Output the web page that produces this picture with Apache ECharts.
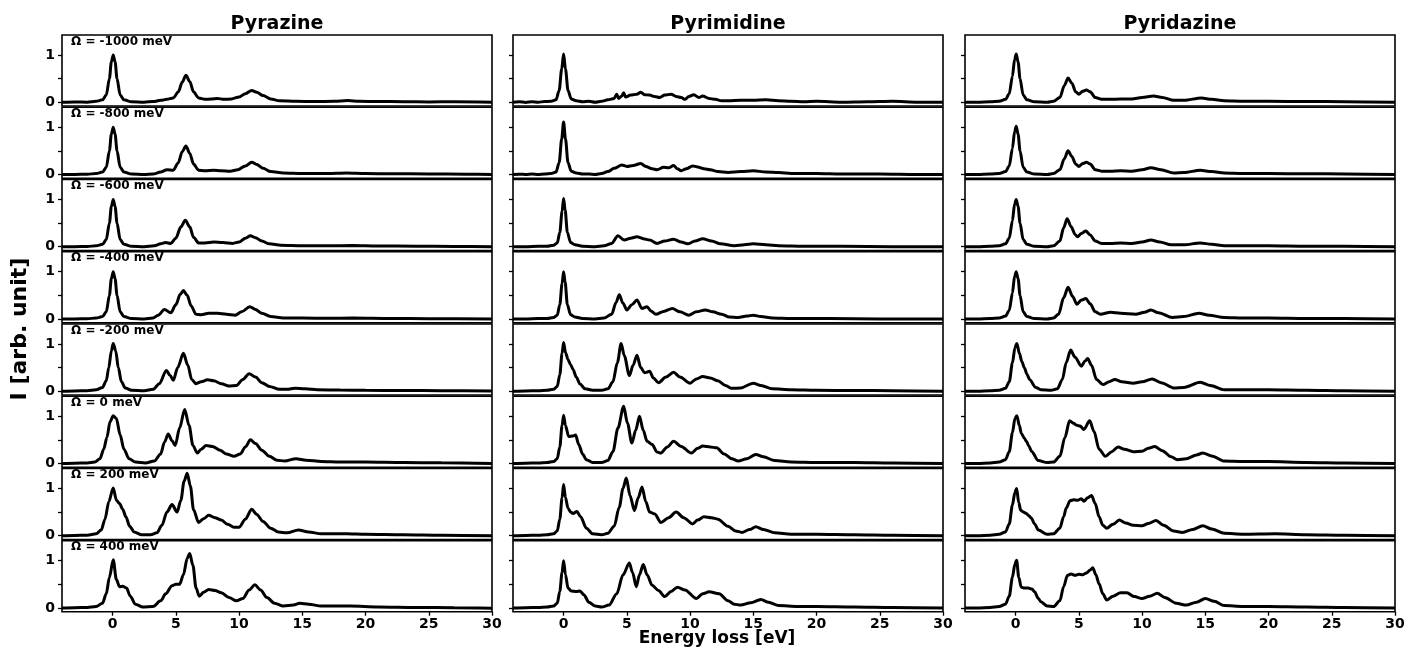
<!DOCTYPE html>
<html>
<head>
<meta charset="utf-8">
<script src="https://cdn.jsdelivr.net/npm/echarts@6/dist/echarts.min.js"></script>
<style>html,body{margin:0;padding:0;background:#fff}#c{width:1404px;height:648px}</style>
</head>
<body>
<div id="c"></div>
<script>
// ---------------- data ----------------
const molecules = ['Pyrazine', 'Pyrimidine', 'Pyridazine'];
const omegaLabels = ['Ω = -1000 meV', 'Ω = -800 meV', 'Ω = -600 meV', 'Ω = -400 meV', 'Ω = -200 meV', 'Ω = 0 meV', 'Ω = 200 meV', 'Ω = 400 meV'];
const xTicks = [0, 5, 10, 15, 20, 25, 30];
const yTicks = [0, 0.5, 1];
const yTickLabels = [0, 1];

// Pyrazine
const pz_m1000 = [[-4,0.0],[-3,0.005],[-2,0.0],[-1.3,0.02],[-0.8,0.05],[-0.5,0.15],[-0.25,0.5],[-0.1,0.85],[0.05,1.0],[0.2,0.85],[0.35,0.5],[0.6,0.15],[0.9,0.05],[1.5,0.01],[2.5,0.0],[3.2,0.015],[3.8,0.04],[4.3,0.06],[4.8,0.09],[5.2,0.22],[5.5,0.42],[5.8,0.57],[6.1,0.44],[6.4,0.22],[6.8,0.09],[7.3,0.06],[7.8,0.07],[8.3,0.08],[8.8,0.06],[9.4,0.07],[10,0.11],[10.5,0.18],[11,0.25],[11.4,0.21],[11.9,0.14],[12.5,0.07],[13.2,0.03],[14.5,0.02],[16,0.015],[17.5,0.02],[18.6,0.035],[19.5,0.02],[21,0.015],[23,0.01],[25,0.005],[27,0.01],[30,0.0]];
const pz_m800 = [[-4,0.0],[-3,0.0],[-2,0.005],[-1.3,0.02],[-0.8,0.05],[-0.5,0.15],[-0.25,0.5],[-0.1,0.85],[0.05,1.0],[0.2,0.85],[0.35,0.5],[0.6,0.15],[0.9,0.05],[1.5,0.01],[2.5,0.0],[3.2,0.01],[3.8,0.05],[4.3,0.1],[4.8,0.09],[5.2,0.25],[5.5,0.48],[5.8,0.6],[6.1,0.45],[6.4,0.22],[6.8,0.09],[7.3,0.08],[8,0.09],[8.6,0.08],[9.3,0.07],[9.9,0.1],[10.5,0.18],[11,0.26],[11.4,0.21],[11.9,0.13],[12.5,0.06],[13.5,0.03],[15,0.02],[17,0.02],[18.5,0.03],[20,0.02],[22,0.015],[25,0.01],[28,0.005],[30,0.0]];
const pz_m600 = [[-4,0.0],[-3,0.0],[-2,0.005],[-1.3,0.02],[-0.8,0.05],[-0.5,0.15],[-0.25,0.5],[-0.1,0.85],[0.05,1.0],[0.2,0.85],[0.35,0.5],[0.6,0.15],[0.9,0.05],[1.5,0.01],[2.5,0.0],[3.3,0.02],[3.8,0.06],[4.2,0.09],[4.6,0.07],[5.0,0.18],[5.4,0.42],[5.75,0.56],[6.1,0.42],[6.4,0.2],[6.8,0.08],[7.3,0.08],[8,0.1],[8.7,0.09],[9.5,0.07],[10,0.1],[10.5,0.18],[10.9,0.23],[11.3,0.19],[11.8,0.12],[12.4,0.06],[13.3,0.03],[15,0.02],[17,0.02],[19,0.025],[21,0.015],[24,0.01],[27,0.005],[30,0.0]];
const pz_m400 = [[-4,0.0],[-3,0.0],[-2,0.005],[-1.3,0.02],[-0.8,0.05],[-0.5,0.15],[-0.25,0.5],[-0.1,0.85],[0.05,1.0],[0.2,0.85],[0.35,0.5],[0.6,0.15],[0.9,0.05],[1.5,0.01],[2.5,0.0],[3.2,0.02],[3.6,0.08],[4.1,0.2],[4.6,0.13],[5.0,0.3],[5.35,0.52],[5.6,0.6],[5.9,0.5],[6.2,0.28],[6.6,0.1],[7,0.09],[7.6,0.12],[8.3,0.12],[9,0.1],[9.7,0.08],[10.2,0.15],[10.85,0.26],[11.3,0.2],[11.8,0.12],[12.5,0.05],[13.5,0.02],[15,0.02],[17,0.015],[19,0.02],[22,0.01],[25,0.005],[30,0.0]];
const pz_m200 = [[-4,0.0],[-3,0.005],[-2,0.01],[-1.3,0.03],[-0.8,0.08],[-0.5,0.22],[-0.3,0.5],[-0.1,0.85],[0.05,1.01],[0.25,0.85],[0.45,0.5],[0.7,0.2],[1,0.07],[1.5,0.02],[2.5,0.01],[3.2,0.04],[3.7,0.16],[4.25,0.44],[4.55,0.33],[4.8,0.23],[5.15,0.5],[5.6,0.8],[5.95,0.55],[6.25,0.25],[6.6,0.16],[7.0,0.2],[7.5,0.24],[8.0,0.22],[8.6,0.16],[9.2,0.11],[9.8,0.12],[10.3,0.25],[10.8,0.37],[11.3,0.3],[11.8,0.18],[12.4,0.1],[13.2,0.04],[13.8,0.04],[14.4,0.065],[15.2,0.05],[16.2,0.03],[18,0.025],[20,0.02],[23,0.015],[26,0.01],[30,0.005]];
const pz_0 = [[-4,0.0],[-3,0.005],[-2,0.01],[-1.4,0.03],[-1,0.1],[-0.7,0.3],[-0.45,0.55],[-0.2,0.88],[0.05,1.01],[0.3,0.95],[0.6,0.6],[0.9,0.3],[1.3,0.1],[1.8,0.03],[2.6,0.01],[3.3,0.05],[3.8,0.2],[4.1,0.45],[4.4,0.62],[4.7,0.48],[4.95,0.38],[5.3,0.75],[5.7,1.14],[6.05,0.8],[6.35,0.38],[6.7,0.22],[7.0,0.3],[7.4,0.38],[7.9,0.36],[8.5,0.28],[9.0,0.2],[9.6,0.15],[10.1,0.2],[10.5,0.35],[10.9,0.5],[11.3,0.42],[11.8,0.28],[12.4,0.15],[13,0.07],[13.6,0.05],[14.5,0.1],[15.3,0.07],[16.5,0.04],[18,0.03],[20,0.03],[23,0.02],[26,0.015],[30,0.0]];
const pz_200 = [[-4,0.0],[-3,0.005],[-2,0.01],[-1.3,0.04],[-0.9,0.12],[-0.6,0.35],[-0.3,0.72],[0.05,1.01],[0.3,0.75],[0.55,0.68],[0.8,0.56],[1.05,0.4],[1.35,0.2],[1.7,0.08],[2.3,0.02],[3.0,0.02],[3.5,0.06],[3.9,0.22],[4.3,0.5],[4.7,0.66],[5.1,0.5],[5.4,0.75],[5.65,1.15],[5.9,1.32],[6.15,1.05],[6.4,0.55],[6.8,0.28],[7.2,0.36],[7.6,0.43],[8.1,0.38],[8.6,0.33],[9.1,0.24],[9.6,0.18],[10.0,0.18],[10.5,0.35],[11.0,0.56],[11.4,0.45],[11.9,0.3],[12.5,0.16],[13.1,0.08],[13.8,0.06],[14.7,0.12],[15.5,0.08],[16.5,0.04],[18.5,0.04],[20,0.03],[23,0.02],[26,0.01],[30,0.0]];
const pz_400 = [[-4,0.0],[-3,0.005],[-2,0.01],[-1.3,0.03],[-0.8,0.1],[-0.5,0.3],[-0.25,0.65],[0.05,1.02],[0.3,0.6],[0.55,0.45],[0.8,0.46],[1.1,0.42],[1.4,0.25],[1.8,0.08],[2.4,0.02],[3.2,0.03],[3.8,0.15],[4.2,0.3],[4.7,0.47],[5.0,0.5],[5.3,0.5],[5.6,0.7],[5.9,1.05],[6.1,1.15],[6.35,0.9],[6.6,0.42],[6.85,0.25],[7.2,0.33],[7.6,0.39],[8.1,0.37],[8.6,0.32],[9.2,0.22],[9.8,0.15],[10.3,0.2],[10.8,0.38],[11.25,0.49],[11.7,0.38],[12.2,0.22],[12.8,0.1],[13.5,0.04],[14.3,0.06],[14.8,0.1],[15.5,0.08],[16.5,0.04],[18.8,0.04],[21,0.02],[24,0.01],[27,0.005],[30,-0.005]];

// Pyrimidine
const pm_m1000 = [[-4,0.0],[-3.5,0.01],[-3,-0.005],[-2.5,0.01],[-2,0.0],[-1.5,0.015],[-1,0.02],[-0.6,0.05],[-0.35,0.25],[-0.15,0.7],[0,1.02],[0.15,0.7],[0.35,0.25],[0.6,0.07],[1,0.03],[1.5,0.01],[2,0.02],[2.5,0.0],[3,0.02],[3.5,0.05],[4,0.08],[4.2,0.17],[4.35,0.08],[4.6,0.13],[4.75,0.2],[4.9,0.11],[5.3,0.15],[5.8,0.17],[6.1,0.21],[6.4,0.16],[6.8,0.15],[7.2,0.12],[7.6,0.1],[8.0,0.15],[8.5,0.17],[8.9,0.12],[9.3,0.1],[9.6,0.06],[9.9,0.12],[10.3,0.16],[10.7,0.1],[11.0,0.13],[11.5,0.08],[12,0.06],[12.5,0.03],[13,0.03],[14,0.04],[15,0.04],[16,0.05],[17,0.03],[18,0.02],[19,0.01],[20,0.02],[22,0.0],[24,0.01],[26,0.02],[28,0.0],[30,0.0]];
const pm_m800 = [[-4,0.0],[-3.5,0.005],[-3,0.0],[-2.5,0.01],[-2,0.0],[-1.5,0.01],[-1,0.02],[-0.6,0.05],[-0.35,0.25],[-0.15,0.75],[0,1.11],[0.15,0.75],[0.35,0.25],[0.6,0.07],[1,0.03],[1.5,0.01],[2,0.01],[2.5,0.0],[3,0.02],[3.5,0.06],[4,0.13],[4.6,0.2],[5,0.17],[5.5,0.19],[6.1,0.23],[6.5,0.17],[7,0.12],[7.4,0.1],[7.9,0.15],[8.3,0.14],[8.7,0.19],[9.0,0.12],[9.3,0.08],[9.7,0.12],[10.2,0.18],[10.6,0.16],[11.1,0.12],[11.6,0.1],[12.2,0.06],[13,0.04],[14,0.06],[15,0.08],[16,0.05],[17,0.04],[18,0.02],[20,0.02],[22,0.01],[25,0.01],[28,0.0],[30,0.0]];
const pm_m600 = [[-4,0.0],[-3,0.0],[-2,0.01],[-1.3,0.01],[-0.8,0.03],[-0.5,0.08],[-0.3,0.3],[-0.12,0.75],[0,1.02],[0.12,0.78],[0.3,0.3],[0.55,0.09],[0.9,0.04],[1.5,0.01],[2.5,0.0],[3.2,0.02],[3.8,0.07],[4.3,0.23],[4.8,0.14],[5.3,0.18],[5.8,0.21],[6.3,0.17],[6.8,0.14],[7.4,0.07],[8,0.12],[8.7,0.16],[9.3,0.1],[9.8,0.06],[10.4,0.12],[11,0.17],[11.7,0.12],[12.4,0.06],[13.5,0.02],[14.3,0.04],[15,0.06],[16,0.04],[17,0.02],[19,0.01],[22,0.01],[26,0.0],[30,0.0]];
const pm_m400 = [[-4,0.0],[-3,0.0],[-2,0.01],[-1.3,0.01],[-0.8,0.03],[-0.5,0.08],[-0.3,0.3],[-0.12,0.75],[0,1.0],[0.12,0.78],[0.3,0.3],[0.55,0.09],[0.9,0.04],[1.5,0.01],[2.5,0.0],[3.2,0.02],[3.8,0.1],[4.15,0.35],[4.4,0.51],[4.7,0.33],[5.0,0.19],[5.4,0.3],[5.8,0.4],[6.2,0.22],[6.6,0.26],[6.9,0.17],[7.3,0.1],[7.9,0.16],[8.6,0.22],[9.2,0.15],[9.9,0.08],[10.5,0.15],[11.2,0.19],[11.8,0.15],[12.5,0.1],[13.1,0.04],[13.8,0.03],[14.5,0.06],[15,0.08],[15.6,0.05],[16.5,0.02],[18,0.01],[21,0.01],[25,0.0],[30,0.0]];
const pm_m200 = [[-4,0.0],[-3,0.005],[-2,0.01],[-1.3,0.02],[-0.8,0.04],[-0.5,0.1],[-0.3,0.35],[-0.12,0.8],[0,1.03],[0.15,0.82],[0.35,0.67],[0.55,0.56],[0.75,0.46],[1.0,0.3],[1.3,0.15],[1.7,0.05],[2.3,0.02],[3.0,0.02],[3.5,0.05],[3.9,0.2],[4.25,0.6],[4.55,1.01],[4.8,0.75],[5.2,0.33],[5.5,0.55],[5.8,0.76],[6.1,0.5],[6.4,0.39],[6.8,0.42],[7.1,0.28],[7.5,0.18],[8.1,0.3],[8.7,0.4],[9.2,0.3],[10.0,0.17],[10.5,0.26],[11.0,0.31],[11.6,0.28],[12.2,0.22],[12.8,0.12],[13.3,0.06],[14,0.07],[15,0.17],[15.6,0.12],[16.5,0.05],[18,0.03],[20,0.02],[23,0.015],[26,0.01],[30,0.0]];
const pm_0 = [[-4,0.0],[-3,0.005],[-2,0.01],[-1.3,0.02],[-0.8,0.04],[-0.5,0.1],[-0.3,0.35],[-0.12,0.8],[0,1.02],[0.15,0.8],[0.4,0.57],[0.7,0.58],[0.95,0.6],[1.2,0.4],[1.5,0.2],[1.8,0.08],[2.3,0.02],[3.0,0.02],[3.5,0.06],[3.9,0.25],[4.3,0.75],[4.75,1.21],[5.05,0.85],[5.4,0.43],[5.7,0.7],[6.0,1.0],[6.3,0.7],[6.6,0.47],[7.0,0.4],[7.4,0.24],[7.7,0.22],[8.2,0.35],[8.7,0.47],[9.3,0.36],[10.1,0.22],[10.6,0.32],[11.0,0.37],[11.6,0.35],[12.1,0.33],[12.7,0.2],[13.3,0.1],[13.8,0.05],[14.5,0.1],[15.2,0.19],[15.8,0.14],[16.7,0.06],[18,0.03],[20,0.02],[23,0.02],[26,0.01],[30,0.0]];
const pm_200 = [[-4,0.0],[-3,0.005],[-2,0.01],[-1.3,0.02],[-0.8,0.04],[-0.5,0.1],[-0.3,0.35],[-0.12,0.8],[0,1.08],[0.15,0.8],[0.35,0.58],[0.55,0.5],[0.75,0.47],[1.05,0.51],[1.35,0.4],[1.8,0.16],[2.3,0.04],[3.0,0.02],[3.5,0.05],[4.0,0.2],[4.4,0.6],[4.7,1.0],[4.96,1.22],[5.25,0.85],[5.6,0.53],[5.9,0.8],[6.2,1.03],[6.5,0.72],[6.8,0.5],[7.2,0.46],[7.7,0.28],[8.3,0.38],[8.9,0.5],[9.5,0.38],[10.2,0.25],[10.6,0.33],[11.1,0.4],[11.7,0.38],[12.2,0.35],[13.0,0.2],[13.6,0.1],[14.1,0.07],[14.7,0.13],[15.2,0.19],[15.8,0.13],[16.7,0.06],[18,0.03],[20,0.03],[23,0.02],[26,0.01],[30,0.0]];
const pm_400 = [[-4,0.0],[-3,0.005],[-2,0.01],[-1.3,0.02],[-0.8,0.04],[-0.5,0.1],[-0.3,0.35],[-0.12,0.75],[0,1.0],[0.15,0.7],[0.35,0.42],[0.6,0.36],[1.0,0.35],[1.3,0.36],[1.6,0.28],[2.0,0.12],[2.5,0.04],[3.0,0.02],[3.6,0.06],[4.2,0.3],[4.7,0.7],[5.2,0.95],[5.45,0.75],[5.75,0.45],[6.0,0.7],[6.3,0.92],[6.6,0.7],[7.0,0.48],[7.5,0.37],[8.0,0.24],[8.5,0.35],[9.0,0.44],[9.6,0.38],[10.5,0.2],[11.0,0.3],[11.5,0.34],[12.3,0.3],[13.0,0.15],[13.5,0.08],[14.0,0.06],[14.8,0.11],[15.6,0.18],[16.2,0.12],[17,0.05],[18.5,0.03],[20,0.03],[23,0.02],[26,0.01],[30,0.0]];

// Pyridazine
const pd_m1000 = [[-4,0.0],[-3,0.0],[-2,0.01],[-1.3,0.02],[-0.8,0.06],[-0.5,0.18],[-0.25,0.55],[-0.08,0.9],[0.05,1.02],[0.2,0.85],[0.35,0.5],[0.6,0.15],[0.9,0.05],[1.5,0.01],[2.5,0.0],[3.0,0.02],[3.5,0.1],[3.85,0.35],[4.15,0.51],[4.45,0.4],[4.75,0.22],[5.0,0.17],[5.3,0.23],[5.6,0.26],[5.9,0.22],[6.3,0.1],[6.8,0.06],[7.5,0.06],[8.3,0.07],[9.2,0.07],[10.0,0.1],[10.9,0.13],[11.6,0.1],[12.5,0.04],[13.3,0.04],[14.7,0.09],[15.5,0.06],[16.5,0.03],[18,0.02],[20,0.02],[23,0.015],[26,0.01],[30,0.0]];
const pd_m800 = [[-4,0.0],[-3,0.0],[-2,0.01],[-1.3,0.02],[-0.8,0.06],[-0.5,0.18],[-0.25,0.55],[-0.08,0.9],[0.05,1.02],[0.2,0.85],[0.35,0.5],[0.6,0.15],[0.9,0.05],[1.5,0.01],[2.5,0.0],[3.0,0.02],[3.5,0.1],[3.85,0.33],[4.15,0.5],[4.45,0.38],[4.75,0.22],[5.0,0.17],[5.3,0.23],[5.6,0.26],[5.9,0.22],[6.3,0.1],[6.8,0.07],[7.5,0.07],[8.3,0.08],[9.2,0.07],[10.0,0.1],[10.7,0.14],[11.5,0.1],[12.5,0.03],[13.3,0.04],[14.6,0.09],[15.5,0.06],[16.5,0.03],[18,0.02],[20,0.02],[23,0.015],[26,0.01],[30,0.0]];
const pd_m600 = [[-4,0.0],[-3,0.0],[-2,0.01],[-1.3,0.02],[-0.8,0.06],[-0.5,0.18],[-0.25,0.55],[-0.08,0.9],[0.05,1.0],[0.2,0.85],[0.35,0.5],[0.6,0.15],[0.9,0.05],[1.5,0.01],[2.5,0.0],[3.0,0.02],[3.5,0.12],[3.8,0.4],[4.07,0.59],[4.4,0.42],[4.7,0.26],[4.9,0.21],[5.2,0.28],[5.55,0.33],[5.9,0.25],[6.3,0.12],[6.8,0.07],[7.5,0.07],[8.3,0.08],[9.2,0.07],[10.0,0.1],[10.7,0.14],[11.4,0.1],[12.3,0.04],[13.3,0.04],[14.6,0.08],[15.5,0.05],[16.5,0.02],[18,0.02],[20,0.02],[23,0.01],[26,0.01],[30,0.0]];
const pd_m400 = [[-4,0.0],[-3,0.0],[-2,0.01],[-1.3,0.02],[-0.8,0.06],[-0.5,0.18],[-0.25,0.55],[-0.08,0.9],[0.05,1.0],[0.2,0.85],[0.35,0.5],[0.6,0.15],[0.9,0.05],[1.5,0.01],[2.5,0.0],[3.0,0.02],[3.4,0.1],[3.8,0.45],[4.15,0.67],[4.5,0.48],[4.85,0.31],[5.2,0.4],[5.55,0.43],[5.9,0.32],[6.3,0.15],[6.7,0.1],[7.5,0.14],[8.3,0.12],[9.5,0.1],[10.2,0.14],[10.7,0.19],[11.3,0.13],[12.4,0.03],[13.3,0.05],[14.5,0.12],[15.3,0.08],[16.5,0.03],[18,0.02],[20,0.02],[23,0.01],[26,0.01],[30,0.0]];
const pd_m200 = [[-4,0.0],[-3,0.0],[-2,0.01],[-1.3,0.02],[-0.8,0.06],[-0.5,0.2],[-0.25,0.6],[-0.05,0.92],[0.1,1.01],[0.3,0.8],[0.5,0.62],[0.7,0.49],[0.9,0.36],[1.1,0.25],[1.6,0.08],[2.0,0.03],[2.8,0.02],[3.3,0.05],[3.7,0.25],[4.0,0.6],[4.35,0.87],[4.7,0.72],[5.2,0.53],[5.5,0.64],[5.7,0.69],[6.0,0.55],[6.4,0.25],[6.9,0.14],[7.4,0.2],[7.85,0.25],[8.4,0.2],[9.3,0.17],[10.0,0.2],[10.8,0.26],[11.5,0.18],[12.5,0.07],[13.3,0.08],[14.6,0.19],[15.4,0.12],[16.5,0.03],[18,0.03],[20,0.03],[23,0.02],[26,0.01],[30,0.0]];
const pd_0 = [[-4,0.0],[-3,0.0],[-2,0.01],[-1.3,0.03],[-0.8,0.08],[-0.5,0.25],[-0.25,0.65],[-0.05,0.95],[0.1,1.01],[0.3,0.8],[0.45,0.64],[0.7,0.53],[0.85,0.47],[1.05,0.37],[1.25,0.26],[1.8,0.06],[2.5,0.02],[3.0,0.03],[3.5,0.15],[3.9,0.55],[4.27,0.9],[4.6,0.85],[4.8,0.81],[5.1,0.79],[5.4,0.72],[5.86,0.9],[6.2,0.68],[6.6,0.3],[7.1,0.15],[7.6,0.25],[8.1,0.35],[8.6,0.3],[9.3,0.25],[10.0,0.26],[10.5,0.32],[11.0,0.36],[11.6,0.27],[12.3,0.14],[12.8,0.08],[13.5,0.1],[14.3,0.18],[14.8,0.22],[15.5,0.16],[16.5,0.05],[18,0.04],[20,0.04],[23,0.02],[26,0.01],[30,0.0]];
const pd_200 = [[-4,0.0],[-3,0.0],[-2,0.01],[-1.3,0.03],[-0.8,0.08],[-0.5,0.25],[-0.25,0.65],[-0.05,0.92],[0.08,1.0],[0.25,0.7],[0.4,0.54],[0.6,0.5],[0.85,0.47],[1.05,0.42],[1.25,0.37],[1.5,0.25],[1.8,0.12],[2.5,0.03],[3.0,0.04],[3.5,0.16],[3.8,0.4],[4.0,0.58],[4.3,0.74],[4.6,0.76],[4.9,0.75],[5.2,0.78],[5.4,0.73],[5.7,0.8],[6.0,0.85],[6.3,0.68],[6.6,0.4],[6.9,0.22],[7.2,0.16],[7.7,0.24],[8.2,0.33],[8.7,0.27],[9.3,0.22],[10.0,0.21],[10.5,0.26],[11.1,0.32],[11.7,0.22],[12.5,0.1],[13.2,0.07],[14.0,0.13],[14.8,0.21],[15.5,0.14],[16.5,0.05],[18,0.03],[20.5,0.04],[23,0.02],[26,0.01],[30,0.0]];
const pd_400 = [[-4,0.0],[-3,0.0],[-2,0.01],[-1.3,0.03],[-0.8,0.08],[-0.5,0.25],[-0.25,0.65],[-0.05,0.93],[0.08,1.01],[0.25,0.65],[0.45,0.44],[0.7,0.42],[1.0,0.42],[1.3,0.4],[1.5,0.34],[1.8,0.2],[2.0,0.13],[2.5,0.04],[3.0,0.03],[3.5,0.15],[3.8,0.45],[4.1,0.69],[4.4,0.72],[4.7,0.69],[5.0,0.71],[5.3,0.7],[5.6,0.74],[5.9,0.8],[6.1,0.85],[6.35,0.7],[6.6,0.51],[6.9,0.3],[7.2,0.17],[7.7,0.25],[8.3,0.32],[8.8,0.32],[9.4,0.24],[10.0,0.2],[10.6,0.25],[11.2,0.31],[11.8,0.22],[12.7,0.1],[13.5,0.06],[14.3,0.12],[15.0,0.2],[15.7,0.14],[16.5,0.05],[18,0.03],[20,0.03],[23,0.02],[26,0.01],[30,0.0]];

const pyrazine = [pz_m1000, pz_m800, pz_m600, pz_m400, pz_m200, pz_0, pz_200, pz_400];
const pyrimidine = [pm_m1000, pm_m800, pm_m600, pm_m400, pm_m200, pm_0, pm_200, pm_400];
const pyridazine = [pd_m1000, pd_m800, pd_m600, pd_m400, pd_m200, pd_0, pd_200, pd_400];
const columns = [pyrazine, pyrimidine, pyridazine];

// ---------------- layout ----------------
const FONT = 'DejaVu Sans';
const colLeft = [62, 513, 965];
const panelW = 430;
const top0 = 35;
const rowStep = 72.25;
const panelH = 71;
const nRows = 8;

const grids = [], xAxes = [], yAxes = [], series = [], graphics = [];
let idx = 0;
for (let c = 0; c < 3; c++) {
  for (let r = 0; r < nRows; r++) {
    const isBottom = r === nRows - 1;
    const isLeft = c === 0;
    grids.push({left: colLeft[c], top: top0 + r * rowStep, width: panelW, height: panelH,
      show: true, borderColor: '#000', borderWidth: 1.6, backgroundColor: 'transparent',
      containLabel: false, outerBoundsMode: 'none'});
    xAxes.push({type: 'value', gridIndex: idx, min: -4, max: 30, position: 'bottom',
      axisLine: {show: false, onZero: false}, splitLine: {show: false},
      axisTick: {show: isBottom, inside: false, length: 4, customValues: xTicks, lineStyle: {color: '#000', width: 1.3}},
      axisLabel: {show: isBottom, customValues: xTicks, color: '#000', fontFamily: FONT, fontWeight: 'bold', fontSize: 14, margin: 6}});
    yAxes.push({type: 'value', gridIndex: idx, min: -0.08, max: 1.42, position: 'left',
      axisLine: {show: false, onZero: false}, splitLine: {show: false},
      axisTick: {show: true, inside: false, length: 4, customValues: yTicks, lineStyle: {color: '#000', width: 1.3}},
      axisLabel: {show: isLeft, customValues: yTickLabels, color: '#000', fontFamily: FONT, fontWeight: 'bold', fontSize: 14, margin: 7}});
    series.push({type: 'line', xAxisIndex: idx, yAxisIndex: idx, data: columns[c][r],
      showSymbol: false, symbol: 'none', smooth: 0.3, smoothMonotone: 'x', clip: true,
      lineStyle: {color: '#000', width: 3}, silent: true});
    if (isLeft) {
      graphics.push({type: 'text', left: 71, top: top0 + r * rowStep + 0.5,
        style: {text: omegaLabels[r], font: 'bold 12px "DejaVu Sans"', fill: '#000'}});
    }
    idx++;
  }
  graphics.push({type: 'text', x: colLeft[c] + panelW / 2, y: 24,
    style: {text: molecules[c], font: 'bold 19px "DejaVu Sans"', fill: '#000', textAlign: 'center', textVerticalAlign: 'middle'}});
}
graphics.push({type: 'text', x: 717, y: 639,
  style: {text: 'Energy loss [eV]', font: 'bold 17px "DejaVu Sans"', fill: '#000', textAlign: 'center', textVerticalAlign: 'middle'}});
graphics.push({type: 'text', x: 20, y: 329, rotation: Math.PI / 2,
  style: {text: 'I [arb. unit]', font: 'bold 22px "DejaVu Sans"', fill: '#000', textAlign: 'center', textVerticalAlign: 'middle'}});

const chart = echarts.init(document.getElementById('c'), null, {renderer: 'canvas'});
chart.setOption({
  animation: false,
  backgroundColor: '#fff',
  grid: grids, xAxis: xAxes, yAxis: yAxes, series: series,
  graphic: graphics
});
</script>
</body>
</html>
